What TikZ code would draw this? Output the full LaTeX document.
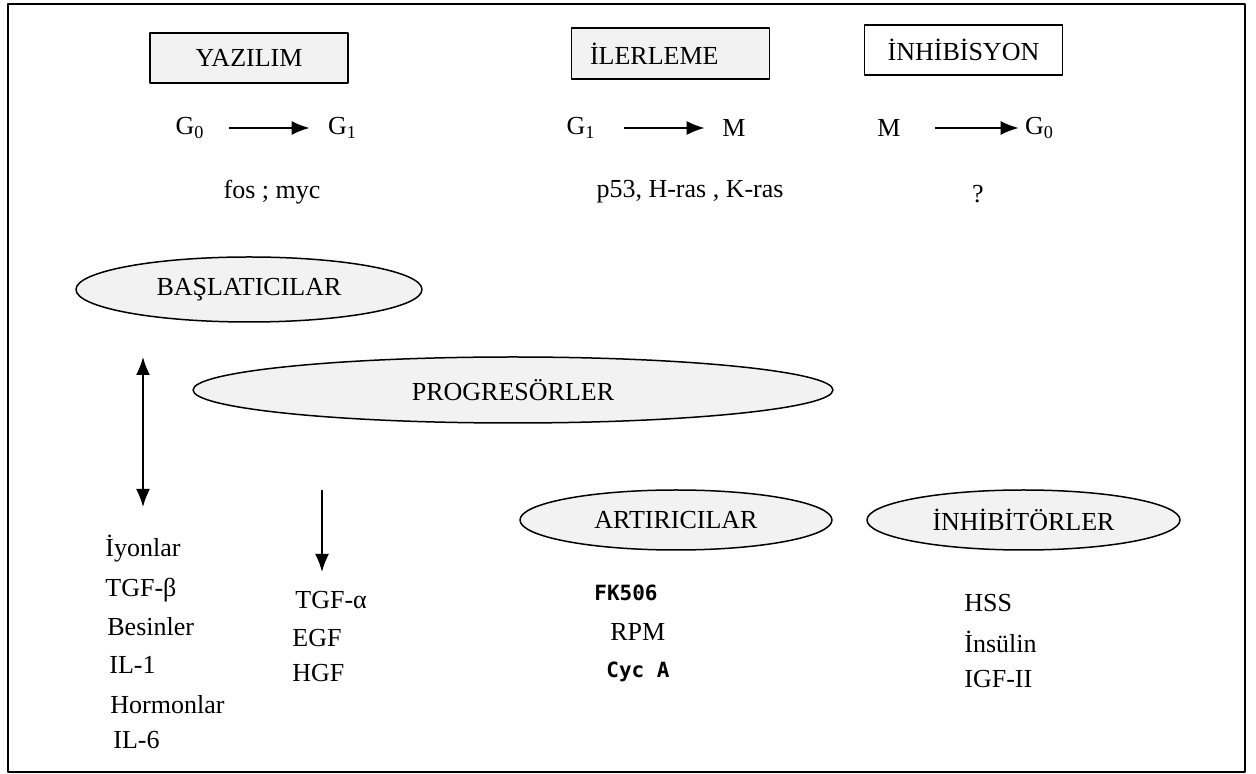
\documentclass[tikz,border=0pt]{standalone}
\usepackage{fontspec}
\setmainfont{Liberation Serif}
\newfontfamily\sysfont{DejaVu Sans Mono}
\usetikzlibrary{arrows.meta,shapes.geometric}
\definecolor{boxgray}{RGB}{242,242,242}
\begin{document}
\begin{tikzpicture}[>={Latex[length=9bp,width=7bp]},line join=bevel,
  font=\fontsize{13bp}{15bp}\selectfont,
  phasebox/.style={draw,line width=0.75bp,minimum width=99bp,minimum height=25bp,inner sep=0bp},
  groupoval/.style={ellipse,draw,line width=0.75bp,fill=boxgray,inner sep=0bp},
  listitem/.style={anchor=west,inner sep=0bp},
  conn/.style={black,line width=0.9bp,->},
]
%%
\useasboundingbox (0bp,0bp) rectangle (628bp,387bp);
\draw [line width=1.2bp] (4bp,1bp) rectangle (622.5bp,385bp);
\node (node_0) at (124.5bp,358bp) [phasebox,fill=boxgray] {YAZILIM};
  \node (node_1) at (335.25bp,360.25bp) [phasebox,fill=boxgray,minimum height=25.5bp,inner xsep=9bp,text width=80.5bp,align=left] {İLERLEME};
  \node (node_2) at (481.75bp,362bp) [phasebox,fill=white] {İNHİBİSYON};
  \node (node_3) at (95bp,323bp) [inner sep=0bp] {G\textsubscript{0}};
  \node (node_4) at (171.25bp,323bp) [inner sep=0bp] {G\textsubscript{1}};
  \node (node_5) at (290.5bp,323bp) [inner sep=0bp] {G\textsubscript{1}};
  \node (node_6) at (367bp,323bp) [inner sep=0bp] {M};
  \node (node_7) at (444.5bp,323bp) [inner sep=0bp] {M};
  \node (node_8) at (519.75bp,323bp) [inner sep=0bp] {G\textsubscript{0}};
  \node (node_9) at (136bp,291bp) [inner sep=0bp] {fos ; myc};
  \node (node_10) at (345bp,291bp) [inner sep=0bp] {p53, H-ras , K-ras};
  \node (node_11) at (489bp,290bp) [inner sep=0bp] {?};
  \node (node_12) at (124.5bp,242.25bp) [groupoval,minimum width=173bp,minimum height=32.5bp] {BAŞLATICILAR};
  \node (node_13) at (256.5bp,192bp) [groupoval,minimum width=320bp,minimum height=33bp] {PROGRESÖRLER};
  \node (node_14) at (338bp,127bp) [groupoval,minimum width=156bp,minimum height=30bp] {ARTIRICILAR};
  \node (node_15) at (511.75bp,127bp) [groupoval,minimum width=156.5bp,minimum height=30bp] {İNHİBİTÖRLER};
  \coordinate (c_0) at (71.5bp,208.5bp);
  \coordinate (c_1) at (71.5bp,133.5bp);
  \coordinate (c_2) at (161bp,142bp);
  \coordinate (c_3) at (161bp,101bp);
  \node (node_16) at (52.5bp,112.5bp) [listitem] {İyonlar};
  \node (node_17) at (52.5bp,92bp) [listitem] {TGF-β};
  \node (node_18) at (53.5bp,73.5bp) [listitem] {Besinler};
  \node (node_19) at (54.5bp,54.5bp) [listitem] {IL-1};
  \node (node_20) at (55bp,34.5bp) [listitem] {Hormonlar};
  \node (node_21) at (56.5bp,17bp) [listitem] {IL-6};
  \node (node_22) at (147.5bp,87bp) [listitem] {TGF-α};
  \node (node_23) at (146bp,68bp) [listitem] {EGF};
  \node (node_24) at (146bp,50.5bp) [listitem] {HGF};
  \node (node_25) at (297bp,90.5bp) [listitem,font=\sysfont\bfseries\fontsize{10.5bp}{12bp}\selectfont] {FK506};
  \node (node_26) at (305bp,71bp) [listitem] {RPM};
  \node (node_27) at (303bp,51bp) [listitem,font=\sysfont\bfseries\fontsize{10.5bp}{12bp}\selectfont] {Cyc A};
  \node (node_28) at (482bp,85.5bp) [listitem] {HSS};
  \node (node_29) at (482bp,66bp) [listitem] {İnsülin};
  \node (node_30) at (482bp,47.5bp) [listitem] {IGF-II};
  \draw [conn,shorten <=12bp,shorten >=9bp] (node_3) -- (node_4);
  \draw [conn,shorten <=14bp,shorten >=8.7bp] (node_5) -- (node_6);
  \draw [conn,shorten <=17bp,shorten >=3bp] (node_7) -- (node_8);
  \draw [conn,<->] (c_0) -- (c_1);
  \draw [conn] (c_2) -- (c_3);
%
\end{tikzpicture}
\end{document}
